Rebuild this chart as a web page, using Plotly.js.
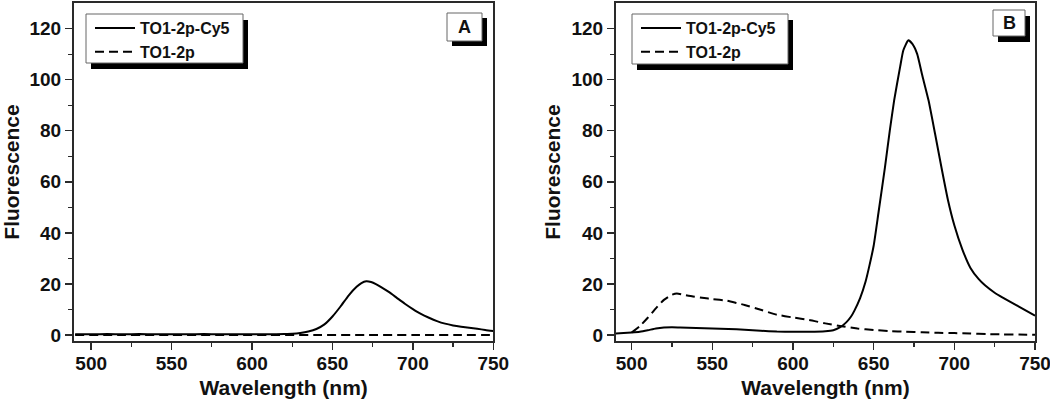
<!DOCTYPE html>
<html><head><meta charset="utf-8">
<script src="https://cdn.plot.ly/plotly-3.0.1.min.js"></script>
<style>html,body{margin:0;padding:0;background:#fff}#chart{width:1050px;height:401px}</style>
</head><body><div id="chart"></div>
<script>
// ---- data ----
const seriesNames = ['TO1-2p-Cy5', 'TO1-2p'];
const panelLabels = ['A', 'B'];
const xTitle = 'Wavelength (nm)';
const yTitle = 'Fluorescence';
const xTicks = [500, 550, 600, 650, 700, 750];
const xMinorTicks = [525, 575, 625, 675, 725];
const yTicks = [0, 20, 40, 60, 80, 100, 120];
const yMinorTicks = [10, 30, 50, 70, 90, 110];

// Panel A
const wlA_cy5 = [490,500,510,520,530,540,550,560,570,580,590,600,610,620,625,630,635,640,645,650,655,660,665,668,671,674,677,680,685,690,695,700,705,710,715,720,725,730,735,740,745,750];
const flA_cy5 = [0.3,0.3,0.4,0.3,0.4,0.3,0.3,0.3,0.4,0.3,0.3,0.3,0.3,0.4,0.5,0.8,1.4,2.4,4.2,7.3,11.2,15.5,18.9,20.4,21.1,20.8,20.0,18.9,16.9,14.6,12.3,10.2,8.3,6.8,5.5,4.5,3.8,3.3,2.9,2.5,2.0,1.6];
const wlA_to = [490,520,550,580,610,640,670,700,730,750];
const flA_to = [0,0,0,0,0,0,0,0,0,0];

// Panel B
const wlB_cy5 = [490,495,500,505,510,515,520,525,530,540,550,560,570,580,590,600,610,620,625,629,633,636,638,641.6,645,647.3,650,653,657,660,662.7,666.4,668.4,671.5,674,677,680,684,688,692,696,700,705,710,715,719,725,730,735,740,745,750];
const flB_cy5 = [0.6,0.8,1.0,1.3,1.9,2.6,3.0,3.1,3.0,2.8,2.6,2.4,2.1,1.7,1.4,1.3,1.3,1.5,1.9,3.0,5.0,7.3,9.5,14.5,21,27,35,48,65.7,80,91.9,105,111.5,115.4,114,110,102,91.9,79,65.7,53,43,33.5,26.3,22,19.5,16.6,14.7,12.9,11.2,9.4,7.6];
const wlB_to = [500,505,510,515,520,525,528,532,538,545,550,559,565,570,580,590,600,610,620,630,640,650,660,670,680,690,700,710,720,730,740,750];
const flB_to = [1.0,3.5,6.8,10.5,13.8,15.8,16.3,15.8,15.1,14.5,14.1,13.5,12.6,11.8,9.9,8.0,6.9,5.9,4.6,3.5,2.6,2.0,1.6,1.3,1.1,0.9,0.8,0.6,0.4,0.3,0.2,0.1];

// ---- layout helpers ----
const W = 1050, H = 401;
const M = {l: 74, r: 15, t: 3, b: 60};
const pw = W - M.l - M.r, ph = H - M.t - M.b;
const px = p => (p - M.l) / pw;
const py = p => (H - M.b - p) / ph;
const FONT = 'Liberation Sans, Arial, sans-serif';
const INK = '#111';
const AXC = '#2a2a2a';

function xAxis(domain, anchor, range) {
  return {
    domain, anchor, range, tickmode: 'array', tickvals: xTicks, ticktext: xTicks.map(String),
    ticks: 'outside', ticklen: 7, tickwidth: 1.5, tickcolor: AXC, ticklabeloverflow: 'allow', ticklabelstandoff: -3,
    minor: {tickmode: 'array', tickvals: xMinorTicks, ticks: 'outside', ticklen: 4, tickwidth: 1.2, tickcolor: AXC},
    showline: true, linewidth: 2, linecolor: AXC, mirror: true,
    showgrid: false, zeroline: false,
    tickfont: {family: FONT, size: 19, weight: 'bold', color: INK},
    title: {text: xTitle, font: {family: FONT, size: 21, weight: 'bold', color: INK}, standoff: 8}
  };
}
function yAxis(domain, anchor, range) {
  return {
    domain, anchor, range, tickmode: 'array', tickvals: yTicks, ticktext: yTicks.map(String),
    ticks: 'outside', ticklen: 7, tickwidth: 1.5, tickcolor: AXC,
    minor: {tickmode: 'array', tickvals: yMinorTicks, ticks: 'outside', ticklen: 4, tickwidth: 1.2, tickcolor: AXC},
    showline: true, linewidth: 2, linecolor: AXC, mirror: true,
    showgrid: false, zeroline: false,
    tickfont: {family: FONT, size: 19, weight: 'bold', color: INK},
    title: {text: yTitle, font: {family: FONT, size: 21, weight: 'bold', color: INK}, standoff: 5}
  };
}

const solid = {color: '#000', width: 2, shape: 'spline', smoothing: 0.5};
const dashed = {color: '#000', width: 2, dash: '9px,5px', shape: 'spline', smoothing: 0.5};

const traces = [
  {x: wlA_cy5, y: flA_cy5, name: seriesNames[0], mode: 'lines', line: solid, xaxis: 'x', yaxis: 'y', legend: 'legend'},
  {x: wlA_to, y: flA_to, name: seriesNames[1], mode: 'lines', line: dashed, xaxis: 'x', yaxis: 'y', legend: 'legend'},
  {x: wlB_cy5, y: flB_cy5, name: seriesNames[0], mode: 'lines', line: solid, xaxis: 'x2', yaxis: 'y2', legend: 'legend2'},
  {x: wlB_to, y: flB_to, name: seriesNames[1], mode: 'lines', line: dashed, xaxis: 'x2', yaxis: 'y2', legend: 'legend2'}
];

function boxWithShadow(x0, y0, x1, y1, dx, dy) {
  return [
    {type: 'rect', xref: 'paper', yref: 'paper', x0: px(x0 + dx), x1: px(x1 + dx), y0: py(y0 + dy), y1: py(y1 + dy),
     fillcolor: '#000', line: {width: 0}, layer: 'above'},
    {type: 'rect', xref: 'paper', yref: 'paper', x0: px(x0), x1: px(x1), y0: py(y0), y1: py(y1),
     fillcolor: '#fff', line: {color: '#666', width: 1}, layer: 'above'}
  ];
}

const shapes = [
  ...boxWithShadow(86, 14, 243, 63, 5, 6),
  ...boxWithShadow(632, 14, 788, 64, 5, 6),
  ...boxWithShadow(447, 13, 482, 41, 5, 5),
  ...boxWithShadow(993, 10, 1025, 36, 5, 6)
];

const legendCommon = {
  bgcolor: 'rgba(0,0,0,0)', borderwidth: 0, itemwidth: 40,
  font: {family: FONT, size: 16, weight: 'bold', color: INK},
  xanchor: 'left', yanchor: 'top', tracegroupgap: 0
};

const layout = {
  width: W, height: H, margin: M, paper_bgcolor: '#fff', plot_bgcolor: '#fff',
  showlegend: true, hovermode: false,
  xaxis: xAxis([px(73.5), px(493.3)], 'y', [489.3, 750]),
  yaxis: yAxis([0, 1], 'x', [-2.3, 130]),
  xaxis2: xAxis([px(616), 1], 'y2', [490.3, 750]),
  yaxis2: yAxis([0, 1], 'x2', [-2.3, 130]),
  legend: Object.assign({}, legendCommon, {x: px(90), y: py(11)}),
  legend2: Object.assign({}, legendCommon, {x: px(636), y: py(11)}),
  shapes,
  annotations: [
    {xref: 'paper', yref: 'paper', x: px(464.5), y: py(27), text: panelLabels[0], showarrow: false,
     font: {family: FONT, size: 18, weight: 'bold', color: INK}, xanchor: 'center', yanchor: 'middle'},
    {xref: 'paper', yref: 'paper', x: px(1009), y: py(23), text: panelLabels[1], showarrow: false,
     font: {family: FONT, size: 18, weight: 'bold', color: INK}, xanchor: 'center', yanchor: 'middle'}
  ]
};

Plotly.newPlot('chart', traces, layout, {staticPlot: true, displayModeBar: false});
</script>
</body></html>
